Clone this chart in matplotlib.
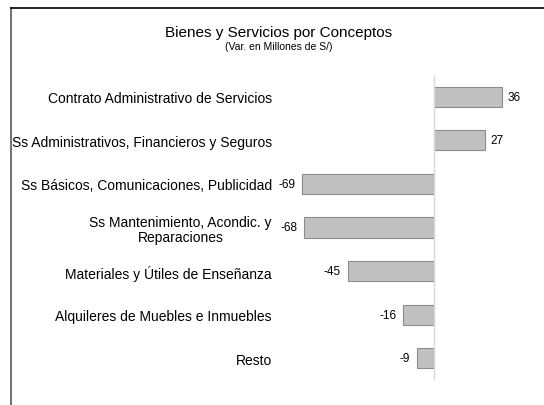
import matplotlib
matplotlib.use("Agg")
import matplotlib.pyplot as plt
from matplotlib.lines import Line2D

plt.rcParams['font.family'] = ['Liberation Sans', 'DejaVu Sans']

categories = [
    "Contrato Administrativo de Servicios",
    "Ss Administrativos, Financieros y Seguros",
    "Ss Básicos, Comunicaciones, Publicidad",
    "Ss Mantenimiento, Acondic. y\nReparaciones",
    "Materiales y Útiles de Enseñanza",
    "Alquileres de Muebles e Inmuebles",
    "Resto",
]
values = [36, 27, -69, -68, -45, -16, -9]

fig = plt.figure(figsize=(5.44, 4.06), dpi=100)
W, H = 544, 406
# axes placed in pixel terms: zero line near x=433
ax = fig.add_axes([285 / W, 1 - 381 / H, (530 - 285) / W, (381 - 76) / H])

ypos = list(range(len(values)))
ax.barh(ypos, values, height=0.46, color="#c0c0c0", edgecolor="#8c8c8c", linewidth=0.8, zorder=2)
ax.set_ylim(len(values) - 0.5, -0.5)
ax.set_xlim(-78, 50.5)
ax.axvline(0, color="#d9d9d9", linewidth=1, zorder=3)

ax.set_yticks(ypos)
ax.set_yticklabels(categories, fontsize=10, multialignment="center", linespacing=1.1)
ax.tick_params(axis="y", length=0, pad=9.5)
ax.set_xticks([])
for s in ax.spines.values():
    s.set_visible(False)

for y, v in zip(ypos, values):
    if v >= 0:
        ax.annotate(str(v), (v, y), xytext=(4, 0), textcoords="offset points",
                    ha="left", va="center", fontsize=8.5)
    else:
        ax.annotate(str(v), (v, y), xytext=(-5, 0), textcoords="offset points",
                    ha="right", va="center", fontsize=8.5)

fig.text(279 / W, 1 - 33 / H, "Bienes y Servicios por Conceptos", ha="center", va="center", fontsize=11)
fig.text(279 / W, 1 - 47 / H, "(Var. en Millones de S/)", ha="center", va="center", fontsize=7.5)

# chart frame (partially visible border)
fig.add_artist(Line2D([11 / W, 11 / W], [0, 1 - 9 / H], color="#666666", linewidth=1.3))
fig.add_artist(Line2D([11 / W, 1], [1 - 9 / H, 1 - 9 / H], color="#000000", linewidth=1.2))

fig.savefig("out.png", dpi=100)
